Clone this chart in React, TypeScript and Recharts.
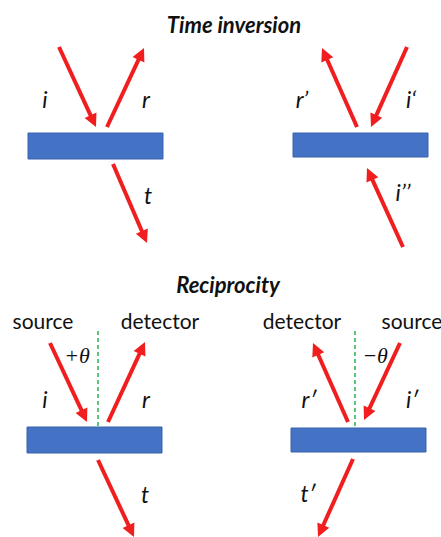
import { ComposedChart, XAxis, YAxis, ReferenceLine, ReferenceArea, Scatter } from 'recharts'

const W = 441
const H = 537
const RED = '#F01E1E'
const BLUE = '#4472C4'
const BLUE_EDGE = '#3A63AE'
const GREEN = '#22B24C'

// slabs: x range and y range (y grows downwards)
const slabs = [
    { id: 'ti-a', x1: 28, x2: 163, y1: 133, y2: 159 },
    { id: 'ti-b', x1: 293, x2: 428, y1: 133, y2: 157 },
    { id: 're-a', x1: 27, x2: 162, y1: 427, y2: 453 },
    { id: 're-b', x1: 291, x2: 426, y1: 428, y2: 452 },
]

// arrows: tail -> head
const arrows = [
    { id: 'i', from: [59, 47], to: [96, 127] },
    { id: 'r', from: [107, 127], to: [144, 48] },
    { id: 't', from: [113, 164], to: [147, 243] },
    { id: "r'", from: [357, 127], to: [322, 48] },
    { id: "i'", from: [407, 47], to: [371, 127] },
    { id: "i''", from: [403, 247], to: [367, 168] },
    { id: 'ri', from: [50, 343], to: [87, 422] },
    { id: 'rr', from: [108, 422], to: [145, 342] },
    { id: 'rt', from: [98, 460], to: [134, 537] },
    { id: "rr'", from: [348, 422], to: [313, 343] },
    { id: "ri'", from: [400, 343], to: [364, 420] },
    { id: "rt'", from: [353, 459], to: [318, 537] },
]

// dashed surface normals
const normals = [
    { id: 'n-a', x: 98, y1: 331, y2: 426 },
    { id: 'n-b', x: 355, y1: 331, y2: 428 },
]

// text: centre x, baseline y
const labels = [
    { x: 234, y: 33, text: 'Time inversion', kind: 'title' },
    { x: 228, y: 293, text: 'Reciprocity', kind: 'title' },
    { x: 45, y: 108, text: 'i', kind: 'var' },
    { x: 146, y: 108, text: 'r', kind: 'var' },
    { x: 148, y: 204, text: 't', kind: 'var' },
    { x: 302, y: 108, text: 'r’', kind: 'var' },
    { x: 411, y: 108, text: 'i‘', kind: 'var' },
    { x: 403, y: 201, text: 'i’’', kind: 'var' },
    { x: 43, y: 329, text: 'source', kind: 'word' },
    { x: 160, y: 329, text: 'detector', kind: 'word' },
    { x: 302, y: 329, text: 'detector', kind: 'word' },
    { x: 412, y: 329, text: 'source', kind: 'word' },
    { x: 77, y: 363, text: '+θ', kind: 'angle' },
    { x: 375, y: 363, text: '−θ', kind: 'angle' },
    { x: 45, y: 408, text: 'i', kind: 'var' },
    { x: 146, y: 408, text: 'r', kind: 'var' },
    { x: 145, y: 503, text: 't', kind: 'var' },
    { x: 309, y: 408, text: 'r′', kind: 'var' },
    { x: 412, y: 408, text: 'i′', kind: 'var' },
    { x: 308, y: 502, text: 't′', kind: 'var' },
]

const textStyles: Record<string, any> = {
    title: { fontFamily: 'Lato', fontWeight: 700, fontStyle: 'italic', fontSize: 22, fill: '#111' },
    var: { fontFamily: 'Lato', fontStyle: 'italic', fontSize: 23, fill: '#111' },
    word: { fontFamily: 'Lato', fontSize: 21, fill: '#111' },
    angle: { fontFamily: 'Liberation Serif', fontStyle: 'italic', fontSize: 22, fill: '#111' },
}

const Arrow = (p: any) => {
    const { x1, y1, x2, y2 } = p
    const dx = x2 - x1
    const dy = y2 - y1
    const len = Math.hypot(dx, dy)
    const ux = dx / len
    const uy = dy / len
    const hl = 13
    const hw = 6.5
    const bx = x2 - ux * hl
    const by = y2 - uy * hl
    const pts = `${x2},${y2} ${bx - uy * hw},${by + ux * hw} ${bx + uy * hw},${by - ux * hw}`
    return (
        <g>
            <line x1={x1} y1={y1} x2={bx + ux} y2={by + uy} stroke={RED} strokeWidth={4} />
            <polygon points={pts} fill={RED} />
        </g>
    )
}

const LabelShape = (p: any) => {
    const d = p.payload
    return (
        <text x={p.cx} y={p.cy} textAnchor="middle" style={textStyles[d.kind]}>
            {d.text}
        </text>
    )
}

export default function App() {
    return (
        <div style={{ position: 'fixed', left: 0, top: 0, background: '#fff' }}>
            <ComposedChart width={W} height={H} margin={{ top: 0, right: 0, bottom: 0, left: 0 }}>
                <XAxis type="number" dataKey="x" domain={[0, W]} hide />
                <YAxis type="number" dataKey="y" domain={[0, H]} reversed hide />
                {slabs.map((s) => (
                    <ReferenceArea
                        key={s.id}
                        x1={s.x1}
                        x2={s.x2}
                        y1={s.y1}
                        y2={s.y2}
                        fill={BLUE}
                        fillOpacity={1}
                        stroke={BLUE_EDGE}
                        strokeWidth={1}
                    />
                ))}
                {normals.map((n) => (
                    <ReferenceLine
                        key={n.id}
                        segment={[{ x: n.x, y: n.y1 }, { x: n.x, y: n.y2 }]}
                        stroke={GREEN}
                        strokeWidth={1.5}
                        strokeDasharray="4 3"
                    />
                ))}
                {arrows.map((a) => (
                    <ReferenceLine
                        key={a.id}
                        segment={[{ x: a.from[0], y: a.from[1] }, { x: a.to[0], y: a.to[1] }]}
                        shape={Arrow}
                    />
                ))}
                <Scatter data={labels} dataKey="y" shape={LabelShape} isAnimationActive={false} />
            </ComposedChart>
        </div>
    )
}
